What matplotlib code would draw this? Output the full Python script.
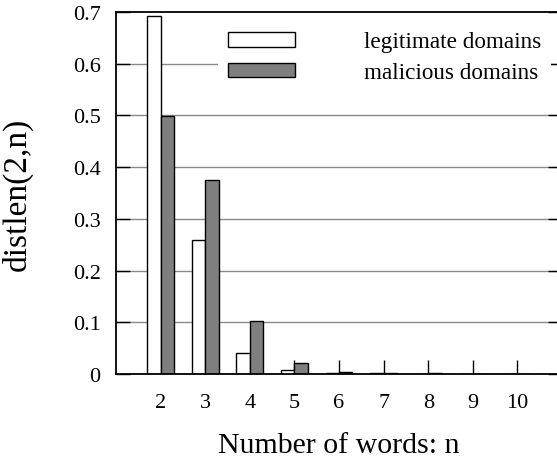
import matplotlib
matplotlib.use("Agg")
import matplotlib.pyplot as plt
import numpy as np

plt.rcParams['font.family'] = ['Liberation Serif', 'DejaVu Serif']

# Word-count distribution of domain names
n_words = [2, 3, 4, 5, 6, 7, 8, 9, 10]
legitimate = [0.692, 0.260, 0.040, 0.007, 0.0015, 0.001, 0.0005, 0.0002, 0.0001]
malicious = [0.499, 0.375, 0.103, 0.021, 0.0045, 0.002, 0.001, 0.0005, 0.0003]
y_ticks = [0, 0.1, 0.2, 0.3, 0.4, 0.5, 0.6, 0.7]
y_tick_labels = ["0", "0.1", "0.2", "0.3", "0.4", "0.5", "0.6", "0.7"]
series_names = ["legitimate domains", "malicious domains"]

W, H = 557, 460
fig = plt.figure(figsize=(W / 100, H / 100), dpi=100)
ax = fig.add_axes([116 / W, (H - 375) / H, 446 / W, 362 / H])

x = np.array(n_words, dtype=float)
bw = 0.3
ax.bar(x - bw / 2, legitimate, width=bw, color="white", edgecolor="black",
       linewidth=1.0, label=series_names[0], zorder=2)
ax.bar(x + bw / 2, malicious, width=bw, color="#7f7f7f", edgecolor="black",
       linewidth=1.0, label=series_names[1], zorder=2)

ax.set_xlim(1, 11)
ax.set_ylim(0, 0.7)
ax.set_xticks(n_words)
ax.set_xticklabels([str(v) for v in n_words])
ax.set_yticks(y_ticks)
ax.set_yticklabels(y_tick_labels)

# horizontal grid lines sit behind the bars; tick marks stay on top
for yv in y_ticks[1:-1]:
    ax.axhline(yv, color="#8a8a8a", linewidth=1.0, zorder=0.5)

ax.tick_params(axis="y", direction="in", length=10, width=1.0, left=True,
               right=True, labelsize=16, pad=11)
ax.tick_params(axis="x", direction="in", length=10, width=1.0, bottom=True,
               top=False, labelsize=16, pad=14)
for s in ax.spines.values():
    s.set_linewidth(1.3)

ax.set_xlabel("Number of words: n", fontsize=21.5)
ax.xaxis.set_label_coords(0.5, -0.161)
ax.set_ylabel("distlen(2,n)", fontsize=24)
ax.yaxis.set_label_coords(-(116 - 33) / 446, 0.5)

leg = ax.legend(loc="upper right", bbox_to_anchor=((551 - 116) / 446, 0.972),
                fontsize=16.7, frameon=True, fancybox=False, framealpha=1.0,
                facecolor="white", edgecolor="none", handlelength=2.9,
                handleheight=0.6, handletextpad=3.0, labelspacing=0.42,
                borderpad=0.4, borderaxespad=0.0)
leg.set_zorder(2.2)

fig.savefig("out.png", dpi=100)
